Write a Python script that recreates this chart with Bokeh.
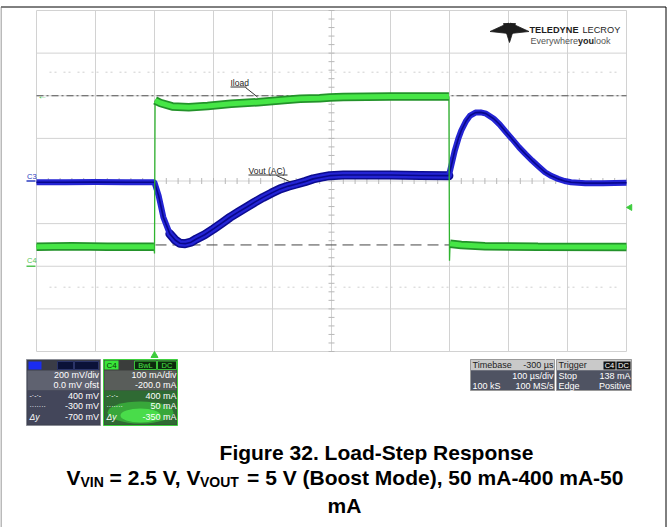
import math
from bokeh.plotting import figure
from bokeh.models import Range1d
from bokeh.core.properties import value
from bokeh.embed import file_html
from bokeh.resources import INLINE

# ---------------- data ----------------
# C3 : Vout (AC coupled), 200 mV/div, 0 mV offset
vout_t_us = [0, 50, 100, 150, 199, 200, 207, 215, 226, 235, 243, 252, 262, 271, 285,
             300, 314, 328, 342, 356, 370, 384, 398, 413, 427, 441, 455, 469, 483, 497,
             520, 550, 600, 650, 699, 703, 709, 715, 720, 728, 735, 744, 753, 762, 775,
             785, 796, 807, 818, 829, 840, 851, 862, 873, 884, 895, 906, 930, 960, 1000]
vout_mV = [-6, -6, -5, -6, -6, -8, -69, -170, -248, -277, -292, -294, -287, -272, -252,
           -225, -198, -170, -146, -123, -99, -77, -57, -37, -24, -14, -3, 10, 18, 25,
           28, 28, 28, 26, 25, 72, 143, 199, 237, 281, 307, 321, 322, 316, 292,
           265, 229, 194, 158, 126, 96, 68, 41, 23, 10, 0, -6, -10, -10, -8]

# C4 : Iload, 100 mA/div, -200 mA offset
load_t_us = [0, 60, 120, 199, 200, 201, 210, 230, 258, 290, 330, 375, 420, 447, 480,
             497, 520, 600, 699, 700, 701, 720, 760, 850, 1000]
load_mA = [46, 47, 46, 46, 30, 389, 383, 375, 373, 376, 381, 385, 390, 393, 394,
           396, 397, 398, 398, 13, 53, 50, 47, 46, 45]

# scope settings / cursors
time_div_us = 100
n_xdiv, n_ydiv = 10, 8
c3_mV_per_div = 200
c4_mA_per_div = 100
c4_offset_mA = -200
cursor_mA = [400, 50]          # dash-dot, dashed
trigger_t_us = 200
trigger_level_mA = 138

c3_panel = ["200 mV/div", "0.0 mV ofst", "400 mV", "-300 mV", "-700 mV"]
c4_panel = ["100 mA/div", "-200.0 mA", "400 mA", "50 mA", "-350 mA"]
tb_panel = [("Timebase", "-300 µs"), ("", "100 µs/div"), ("100 kS", "100 MS/s")]
trig_panel = [("Trigger", ""), ("Stop", "138 mA"), ("Edge", "Positive")]

# ---------------- layout (reference pixel geometry) ----------------
W, H = 669, 527
GL, GR, GT, GB = 36.0, 626.0, 10.0, 351.0
GC = (GT + GB) / 2
DY = (GB - GT) / n_ydiv
DXPX = (GR - GL) / n_xdiv


def X(px):
    return (px - GL) / DXPX * time_div_us


def Y(py):
    return (GC - py) / DY


SANS = "Liberation Sans"

p = figure(width=W, height=H, output_backend="svg", toolbar_location=None,
           x_axis_type=None, y_axis_type=None, min_border=0,
           x_range=Range1d(X(0), X(W)), y_range=Range1d(Y(H), Y(0)))
p.outline_line_color = None
p.background_fill_color = "white"
p.border_fill_color = "white"
lo, hi = Y(H), Y(0)
p.extra_y_ranges = {
    "mv": Range1d(lo * c3_mV_per_div, hi * c3_mV_per_div),
    "ma": Range1d(lo * c4_mA_per_div - c4_offset_mA, hi * c4_mA_per_div - c4_offset_mA),
}


def box(x0, y0, x1, y1, fill, line=None, lw=1):
    p.quad(left=X(x0), right=X(x1), top=Y(y0), bottom=Y(y1),
           fill_color=fill, line_color=line, line_width=lw)


def txt(x, y, s, size=9, color="white", align="left", baseline="middle",
        font=SANS, style="normal"):
    p.text(x=[X(x)], y=[Y(y)], text=[s], text_font=value(font),
           text_font_size=f"{size}px", text_color=color, text_align=align,
           text_baseline=baseline, text_font_style=style)


# ---------------- graticule ----------------
gx = [i * time_div_us for i in range(n_xdiv + 1)]
gy = [j - n_ydiv / 2 for j in range(n_ydiv + 1)]
p.segment(x0=gx, y0=[gy[0]] * len(gx), x1=gx, y1=[gy[-1]] * len(gx),
          line_color="#d2d2d2", line_width=1)
p.segment(x0=[0] * len(gy), y0=gy, x1=[gx[-1]] * len(gy), y1=gy,
          line_color="#d2d2d2", line_width=1)
# faint dotted lines
p.segment(x0=[X(49)] * 2, y0=[Y(71.7), Y(286.7)], x1=[X(618)] * 2, y1=[Y(71.7), Y(286.7)],
          line_color="#cfcfcf", line_width=1, line_dash="2 3 2 7")
# centre ticks
cx = gx[-1] / 2
ty = [gy[0] + 0.2 * k for k in range(5 * n_ydiv + 1)]
tick_w = 3 / DXPX * time_div_us
p.segment(x0=[cx - tick_w] * len(ty), y0=ty, x1=[cx + tick_w] * len(ty), y1=ty,
          line_color="#b8b8b8", line_width=1)
tx = [time_div_us * 0.2 * k for k in range(5 * n_xdiv + 1)]
tick_h = 3 / DY
p.segment(x0=tx, y0=[-tick_h] * len(tx), x1=tx, y1=[tick_h] * len(tx),
          line_color="#b8b8b8", line_width=1)

# cursors
p.line(x=[0, gx[-1]], y=[cursor_mA[0]] * 2, y_range_name="ma",
       line_color="#555555", line_width=1, line_dash="7 3 2 3")
p.line(x=[0, gx[-1]], y=[cursor_mA[1]] * 2, y_range_name="ma",
       line_color="#444444", line_width=1, line_dash="11 6")

# ---------------- traces ----------------
# noisier part of Vout: wider dark band
noisy = [(t, v) for t, v in zip(vout_t_us, vout_mV) if 226 <= t <= 699]
p.line(x=[a for a, _ in noisy], y=[b for _, b in noisy], y_range_name="mv",
       line_color="#0c0c90", line_width=9, line_join="round", line_cap="round")
p.line(x=vout_t_us, y=vout_mV, y_range_name="mv", line_color="#2424d4", line_width=6,
       line_join="round")
p.line(x=vout_t_us, y=vout_mV, y_range_name="mv", line_color="#08088c", line_width=1.6)


def split_steps(t, v):
    xs, ys = [], []
    for i in range(len(t)):
        if i > 0 and t[i] - t[i - 1] < 1.5:
            xs.append(float("nan"))
            ys.append(float("nan"))
        xs.append(t[i])
        ys.append(v[i])
    return xs, ys


lx, ly = split_steps(load_t_us, load_mA)
p.line(x=load_t_us, y=load_mA, y_range_name="ma", line_color="#2fb42f", line_width=1.3)
p.line(x=lx, y=ly, y_range_name="ma", line_color="#23922a", line_width=8.5)
p.line(x=lx, y=ly, y_range_name="ma", line_color="#46e646", line_width=5)

# ---------------- trace annotations ----------------
txt(230, 82, "Iload", size=8.5, color="#222222")
p.segment(x0=[X(230)], y0=[Y(86.5)], x1=[X(246)], y1=[Y(86.5)], line_color="#333333", line_width=1)
p.segment(x0=[X(245)], y0=[Y(87)], x1=[X(257)], y1=[Y(96.5)], line_color="#333333", line_width=1)
txt(248, 170, "Vout (AC)", size=8.5, color="#222222")
p.segment(x0=[X(248)], y0=[Y(174.5)], x1=[X(287)], y1=[Y(174.5)], line_color="#333333", line_width=1)
p.segment(x0=[X(276)], y0=[Y(175)], x1=[X(290)], y1=[Y(181.5)], line_color="#333333", line_width=1)

# channel ground markers
txt(26.5, 176, "C3", size=7.5, color="#2b3cc0")
p.segment(x0=[X(26)], y0=[0], x1=[X(35)], y1=[0], y_range_name="mv", line_color="#2b3cc0", line_width=1.5)
txt(26.5, 259.5, "C4", size=7.5, color="#55c455")
p.segment(x0=[X(26)], y0=[0], x1=[X(35)], y1=[0], y_range_name="ma", line_color="#55c455", line_width=1.5)
# cursor arrow at left
p.text(x=[X(37)], y=[cursor_mA[0]], y_range_name="ma", text=["←"], text_font=value(SANS),
       text_font_size="10px", text_color="#3cc83c", text_align="left", text_baseline="middle")
# trigger markers
p.scatter(x=[trigger_t_us], y=[Y(355)], marker="triangle", size=7, fill_color="#3ccc3c", line_color="#3ccc3c")
p.scatter(x=[X(629.5)], y=[trigger_level_mA], y_range_name="ma", marker="triangle", angle=math.pi / 2,
          size=6, fill_color="#3ccc3c", line_color="#3ccc3c")

# ---------------- logo ----------------
logo_xs = [[489.5, 508, 508], [528.5, 510, 510], [503, 515, 509]]
logo_ys = [[31, 22.5, 33], [31, 22.5, 33], [23, 23, 42]]
p.patches(xs=[[X(a) for a in s] for s in logo_xs], ys=[[Y(b) for b in s] for s in logo_ys],
          fill_color="#1e1e1e", line_color="#1e1e1e", line_width=0.8)
txt(529, 29.5, "TELEDYNE", size=9.2, color="#1e1e1e", style="bold")
txt(582, 29.5, "LECROY", size=9.2, color="#1e1e1e")
txt(530, 40, "Everywhere", size=9, color="#555555")
txt(577.5, 40, "you", size=9, color="#222222", style="bold")
txt(593.5, 40, "look", size=9, color="#555555")

# ---------------- channel descriptor panels ----------------
rows_y = [374, 384, 395, 405.5, 416]
# C3
box(26, 359, 100, 425, "#3e414d", "#8a8d96")
box(26.5, 359.5, 99.5, 370, "#3a3c47")
box(27, 370, 99, 390, "#5f6270")
box(27, 390, 99, 424, "#43465a")
box(28, 361, 41, 369, "#1a2cf0")
box(57, 361, 73, 369, "#0b1238", "#2b3468")
box(74, 361, 98, 369, "#0b1238", "#2b3468")
for yy, s in zip(rows_y, c3_panel):
    txt(98.5, yy, s, align="right")
txt(29, 395, "-·-·-", size=7)
txt(29, 405.5, "·······", size=7)
txt(29, 416, "Δy", size=8.5, style="italic")
# C4
box(103, 359, 177, 425, "#3e423f", "#3fcf3f")
box(104, 360, 176, 370, "#3a3d3b")
box(104, 370, 176, 390, "#595d5a")
box(104, 390, 176, 424, "#2f6a33")
p.ellipse(x=[X(140)], y=[Y(412)], width=66, height=22, width_units="screen", height_units="screen",
          fill_color="#3fd83f", fill_alpha=0.55, line_color=None)
p.ellipse(x=[X(140)], y=[Y(415)], width=40, height=14, width_units="screen", height_units="screen",
          fill_color="#55ff55", fill_alpha=0.6, line_color=None)
box(104, 360, 118, 369, "#39e639")
txt(111, 364.5, "C4", size=8, color="#0a3a0a", align="center")
box(134, 360.5, 156, 369, "#0d2a0d", "#39c039")
txt(145, 364.8, "BwL", size=7.5, color="#48e048", align="center")
box(157, 360.5, 176, 369, "#0d2a0d", "#39c039")
txt(166.5, 364.8, "DC", size=7.5, color="#48e048", align="center")
for yy, s in zip(rows_y, c4_panel):
    txt(176, yy, s, align="right")
txt(106, 395, "-·-·-", size=7)
txt(106, 405.5, "·······", size=7)
txt(106, 416, "Δy", size=8.5, style="italic")

# ---------------- timebase / trigger panels ----------------
tb_y = [364.8, 375, 385.2]
for (x0, x1, rows) in [(470, 554, tb_panel), (556, 631, trig_panel)]:
    box(x0, 359, x1, 390, "#4f5362", "#9a9a9a")
    box(x0 + 0.5, 359.5, x1 - 0.5, 369.8, "#c9c9c9")
    for k, (yy, (a, b)) in enumerate(zip(tb_y, rows)):
        col = "#222222" if k == 0 else "white"
        if a:
            txt(x0 + 2, yy, a, color=col)
        if b:
            txt(x1 - 1, yy, b, color=col, align="right")
box(603, 361, 615, 369, "#111111")
txt(609, 365, "C4", size=7.5, color="white", align="center")
box(616, 361, 630, 369, "#111111")
txt(623, 365, "DC", size=7.5, color="white", align="center")

# ---------------- page border ----------------
p.segment(x0=[X(0.5), X(665.5)], y0=[Y(6.5), Y(6.5)],
          x1=[X(665.5), X(665.5)], y1=[Y(6.5), Y(527)],
          line_color="black", line_width=1)
p.segment(x0=[X(0.5)], y0=[Y(6.5)], x1=[X(0.5)], y1=[Y(527)], line_color="#777777", line_width=1)

# ---------------- caption ----------------
CAP = 21
SUB = 14
txt(376, 451.5, "Figure 32. Load-Step Response", size=CAP, color="black", align="center",
    baseline="alphabetic", style="bold")
line2 = [(66, "V", CAP, 477), (80.0, "VIN", SUB, 481), (109.1, "= 2.5 V, V", CAP, 477),
         (199.5, "VOUT", SUB, 481), (246.6, "= 5 V (Boost Mode), 50 mA-400 mA-50", CAP, 477)]
for x0, s, sz, yb in line2:
    txt(x0, yb, s, size=sz, color="black", baseline="alphabetic", style="bold")
txt(344, 505, "mA", size=CAP, color="black", align="center", baseline="alphabetic", style="bold")

open("out.html", "w").write(file_html(p, INLINE))
